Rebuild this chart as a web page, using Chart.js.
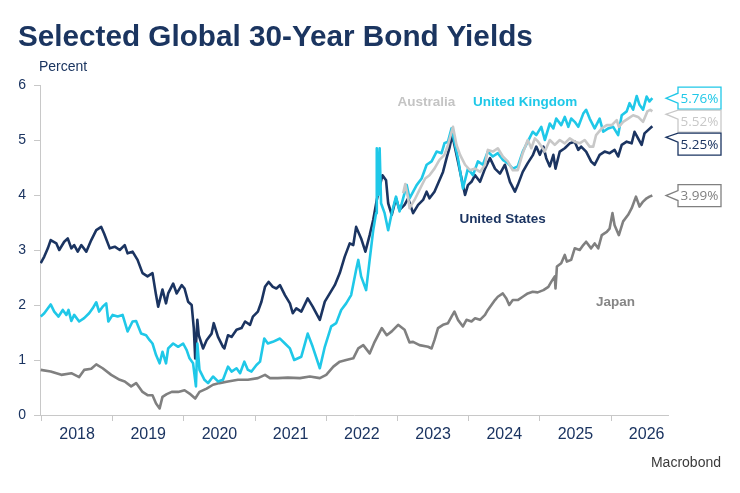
<!DOCTYPE html>
<html>
<head>
<meta charset="utf-8">
<script src="https://cdn.jsdelivr.net/npm/chart.js@4.4.1/dist/chart.umd.min.js"></script>
<style>
    body { margin: 0; background: #fff; }
    #wrap { position: relative; width: 740px; height: 493px; font-family: "Liberation Sans", Arial, sans-serif; overflow: hidden; }
    #box { position: absolute; left: 0; top: 0; width: 740px; height: 493px; }
    .title { position: absolute; left: 18px; top: 21px; font-size: 29.7px; line-height: 30px; font-weight: bold; color: #1b3560; white-space: nowrap; }
    .unit { position: absolute; left: 39px; top: 59px; font-size: 14px; line-height: 14px; color: #1b3560; }
    .source { position: absolute; right: 19px; top: 455px; font-size: 14px; line-height: 14px; color: #3a3a3a; }
</style>
</head>
<body>
<div id="wrap">
    <div id="box"><canvas id="chart"></canvas></div>
    <div class="title">Selected Global 30-Year Bond Yields</div>
    <div class="unit">Percent</div>
    <div class="source">Macrobond</div>
</div>
<script>
// x values are decimal years
const yearTicks = [2018, 2019, 2020, 2021, 2022, 2023, 2024, 2025, 2026];

const usDates = [2017.99, 2018.04, 2018.09, 2018.13, 2018.21, 2018.25, 2018.32, 2018.37, 2018.42, 2018.46, 2018.51, 2018.56, 2018.63, 2018.70, 2018.77, 2018.84, 2018.88, 2018.96,
    2019.03, 2019.10, 2019.17, 2019.21, 2019.28, 2019.35, 2019.42, 2019.49, 2019.56, 2019.61, 2019.64, 2019.70, 2019.75, 2019.78, 2019.85, 2019.90, 2019.97,
    2020.01, 2020.06, 2020.11, 2020.14, 2020.16, 2020.19, 2020.21, 2020.27, 2020.32, 2020.39, 2020.42, 2020.48, 2020.55, 2020.57, 2020.62, 2020.67, 2020.74, 2020.81, 2020.86, 2020.93, 2020.97,
    2021.04, 2021.09, 2021.14, 2021.19, 2021.25, 2021.30, 2021.35, 2021.42, 2021.49, 2021.53, 2021.58, 2021.65, 2021.74, 2021.81, 2021.91, 2021.98,
    2022.05, 2022.12, 2022.19, 2022.26, 2022.33, 2022.38, 2022.42, 2022.49, 2022.55, 2022.61, 2022.66, 2022.71, 2022.75, 2022.79, 2022.84, 2022.87, 2022.92, 2022.98,
    2023.03, 2023.10, 2023.15, 2023.22, 2023.29, 2023.36, 2023.41, 2023.45, 2023.52, 2023.59, 2023.64, 2023.69, 2023.73, 2023.77, 2023.80, 2023.85, 2023.90, 2023.95, 2023.99,
    2024.04, 2024.09, 2024.16, 2024.23, 2024.30, 2024.37, 2024.44, 2024.51, 2024.58, 2024.65, 2024.69, 2024.76, 2024.83, 2024.90, 2024.95,
    2025.00, 2025.05, 2025.09, 2025.14, 2025.19, 2025.22, 2025.28, 2025.35, 2025.42, 2025.49, 2025.54, 2025.58, 2025.65, 2025.72, 2025.77, 2025.84, 2025.91, 2025.98,
    2026.05, 2026.10, 2026.15, 2026.22, 2026.29, 2026.33, 2026.38, 2026.43, 2026.47, 2026.52, 2026.58];
const usYields = [2.76, 2.88, 3.03, 3.18, 3.12, 3.00, 3.15, 3.21, 3.03, 3.09, 2.97, 3.09, 2.97, 3.18, 3.36, 3.42, 3.30, 3.03,
    3.06, 3.00, 3.09, 2.94, 2.97, 2.82, 2.58, 2.52, 2.58, 2.18, 1.97, 2.28, 2.03, 2.21, 2.39, 2.21, 2.36,
    2.30, 2.06, 2.00, 1.58, 1.03, 1.73, 1.45, 1.21, 1.36, 1.48, 1.67, 1.42, 1.24, 1.21, 1.45, 1.42, 1.55, 1.58, 1.70, 1.64, 1.79,
    1.88, 2.06, 2.33, 2.42, 2.33, 2.30, 2.36, 2.18, 2.03, 1.85, 1.94, 1.88, 2.12, 1.97, 1.73, 2.06,
    2.21, 2.36, 2.58, 2.88, 3.12, 3.09, 3.42, 3.21, 2.97, 3.27, 3.55, 3.91, 4.15, 4.36, 4.27, 3.85, 3.64, 3.94,
    3.73, 3.82, 3.94, 3.67, 3.82, 3.91, 4.06, 3.94, 4.06, 4.27, 4.42, 4.67, 4.85, 5.09, 4.91, 4.61, 4.30, 4.00, 4.18,
    4.24, 4.36, 4.24, 4.48, 4.67, 4.48, 4.39, 4.55, 4.24, 4.06, 4.18, 4.42, 4.58, 4.72, 4.88,
    4.73, 4.88, 4.67, 4.52, 4.73, 4.48, 4.79, 4.85, 4.94, 4.97, 4.82, 4.88, 4.79, 4.61, 4.55, 4.73, 4.79, 4.76,
    4.82, 4.70, 4.91, 4.97, 4.94, 5.15, 5.03, 4.91, 5.12, 5.18, 5.25];

const ukDates = [2017.99, 2018.04, 2018.13, 2018.18, 2018.24, 2018.30, 2018.35, 2018.38, 2018.42, 2018.46, 2018.53, 2018.60, 2018.67, 2018.72, 2018.77, 2018.81, 2018.86, 2018.91, 2018.94,
    2019.00, 2019.07, 2019.14, 2019.21, 2019.28, 2019.33, 2019.40, 2019.47, 2019.52, 2019.56, 2019.61, 2019.66, 2019.70, 2019.75, 2019.78, 2019.85, 2019.92, 2019.99,
    2020.04, 2020.08, 2020.13, 2020.17, 2020.19, 2020.22, 2020.29, 2020.34, 2020.41, 2020.48, 2020.55, 2020.62, 2020.67, 2020.74, 2020.79, 2020.85, 2020.90, 2020.95,
    2021.02, 2021.07, 2021.13, 2021.18, 2021.25, 2021.35, 2021.42, 2021.49, 2021.55, 2021.65, 2021.74, 2021.81, 2021.91, 2021.98,
    2022.07, 2022.14, 2022.21, 2022.28, 2022.35, 2022.42, 2022.45, 2022.49, 2022.56, 2022.61, 2022.66, 2022.70, 2022.71, 2022.73, 2022.75, 2022.77, 2022.82, 2022.87, 2022.92, 2022.98,
    2023.03, 2023.13, 2023.17, 2023.27, 2023.34, 2023.41, 2023.48, 2023.55, 2023.62, 2023.66, 2023.71, 2023.76, 2023.80, 2023.85, 2023.92, 2023.99,
    2024.06, 2024.13, 2024.20, 2024.27, 2024.34, 2024.41, 2024.48, 2024.55, 2024.62, 2024.69, 2024.76, 2024.83, 2024.90, 2024.95,
    2025.02, 2025.07, 2025.14, 2025.19, 2025.23, 2025.30, 2025.35, 2025.40, 2025.44, 2025.49, 2025.54, 2025.61, 2025.65, 2025.70, 2025.77, 2025.84, 2025.89, 2025.96,
    2026.03, 2026.10, 2026.15, 2026.22, 2026.26, 2026.31, 2026.36, 2026.40, 2026.45, 2026.50, 2026.54, 2026.58];
const ukYields = [1.79, 1.85, 2.01, 1.88, 1.79, 1.91, 1.82, 1.91, 1.71, 1.82, 1.70, 1.76, 1.85, 1.94, 2.05, 1.88, 1.97, 2.03, 1.70,
    1.82, 1.79, 1.82, 1.52, 1.70, 1.71, 1.48, 1.45, 1.36, 1.30, 1.09, 0.94, 1.15, 0.94, 1.21, 1.30, 1.24, 1.30,
    1.18, 1.03, 0.94, 0.52, 1.30, 0.82, 0.64, 0.58, 0.70, 0.61, 0.64, 0.88, 0.79, 0.85, 0.76, 0.97, 0.82, 0.79,
    0.91, 0.97, 1.39, 1.30, 1.33, 1.39, 1.30, 1.21, 1.00, 1.06, 1.48, 1.24, 0.85, 1.24,
    1.61, 1.67, 1.91, 2.03, 2.18, 2.64, 2.82, 2.52, 2.27, 2.82, 3.36, 3.67, 4.85, 4.00, 4.85, 3.85, 3.67, 3.36, 3.67, 3.97,
    3.70, 4.18, 3.94, 4.18, 4.30, 4.55, 4.61, 4.79, 4.76, 4.94, 4.97, 5.21, 4.97, 4.67, 4.12, 4.48,
    4.36, 4.61, 4.55, 4.79, 4.70, 4.76, 4.64, 4.58, 4.48, 4.52, 4.79, 4.97, 5.15, 5.09,
    5.24, 5.00, 5.30, 5.21, 5.39, 5.27, 5.42, 5.24, 5.39, 5.33, 5.24, 5.48, 5.55, 5.39, 5.21, 5.39, 5.15, 5.21,
    5.24, 5.09, 5.45, 5.52, 5.67, 5.55, 5.80, 5.64, 5.55, 5.79, 5.70, 5.76];

const auDates = [2023.08, 2023.11, 2023.15, 2023.17, 2023.24, 2023.32, 2023.39, 2023.45, 2023.52, 2023.59, 2023.66, 2023.71, 2023.78, 2023.83, 2023.88, 2023.95,
    2024.02, 2024.09, 2024.16, 2024.23, 2024.27, 2024.34, 2024.41, 2024.48, 2024.55, 2024.62, 2024.69, 2024.76, 2024.83, 2024.88, 2024.93, 2024.97,
    2025.07, 2025.14, 2025.21, 2025.28, 2025.35, 2025.42, 2025.49, 2025.56, 2025.63, 2025.70, 2025.75, 2025.79, 2025.87, 2025.94,
    2026.01, 2026.08, 2026.11, 2026.17, 2026.24, 2026.31, 2026.38, 2026.45, 2026.51, 2026.55, 2026.58];
const auYields = [4.03, 4.20, 3.95, 3.76, 3.91, 4.12, 4.30, 4.36, 4.48, 4.64, 4.73, 4.91, 5.24, 4.91, 4.73, 4.55,
    4.45, 4.48, 4.42, 4.55, 4.82, 4.79, 4.85, 4.70, 4.61, 4.45, 4.45, 4.76, 5.00, 4.85, 5.03, 4.98,
    4.79, 5.00, 4.91, 5.00, 4.94, 5.03, 4.97, 4.94, 5.00, 4.88, 4.88, 5.09, 5.21, 5.27,
    5.27, 5.36, 5.24, 5.33, 5.39, 5.45, 5.42, 5.33, 5.52, 5.55, 5.52];

const jpDates = [2017.99, 2018.13, 2018.28, 2018.42, 2018.53, 2018.60, 2018.70, 2018.77, 2018.86, 2018.98,
    2019.10, 2019.17, 2019.26, 2019.33, 2019.42, 2019.49, 2019.56, 2019.61, 2019.66, 2019.70, 2019.76, 2019.83, 2019.92,
    2020.01, 2020.08, 2020.16, 2020.22, 2020.32, 2020.41, 2020.50, 2020.62, 2020.76, 2020.90,
    2021.04, 2021.14, 2021.21, 2021.32, 2021.46, 2021.63, 2021.77, 2021.91,
    2022.00, 2022.10, 2022.19, 2022.28, 2022.38, 2022.45, 2022.52, 2022.61, 2022.68, 2022.78, 2022.85, 2022.92,
    2023.01, 2023.10, 2023.17, 2023.22, 2023.31, 2023.43, 2023.48, 2023.52, 2023.57, 2023.64, 2023.71, 2023.76, 2023.80, 2023.85, 2023.92, 2023.97,
    2024.04, 2024.09, 2024.16, 2024.23, 2024.27, 2024.32, 2024.37, 2024.41, 2024.48, 2024.53, 2024.57, 2024.62, 2024.69, 2024.76, 2024.83, 2024.90, 2024.97,
    2025.05, 2025.12, 2025.16, 2025.21, 2025.22, 2025.24, 2025.30, 2025.35, 2025.38, 2025.44, 2025.49, 2025.56, 2025.61, 2025.65, 2025.72, 2025.77, 2025.82, 2025.87, 2025.94, 2025.98,
    2026.02, 2026.05, 2026.11, 2026.17, 2026.24, 2026.29, 2026.35, 2026.40, 2026.45, 2026.50, 2026.54, 2026.58];
const jpYields = [0.82, 0.79, 0.73, 0.76, 0.69, 0.82, 0.84, 0.92, 0.85, 0.73,
    0.64, 0.61, 0.52, 0.58, 0.42, 0.36, 0.36, 0.21, 0.12, 0.33, 0.38, 0.42, 0.42,
    0.45, 0.39, 0.30, 0.42, 0.48, 0.55, 0.58, 0.61, 0.64, 0.64,
    0.67, 0.73, 0.67, 0.67, 0.68, 0.67, 0.70, 0.67,
    0.73, 0.88, 0.97, 1.00, 1.03, 1.21, 1.27, 1.12, 1.33, 1.58, 1.45, 1.52,
    1.64, 1.55, 1.32, 1.33, 1.27, 1.24, 1.21, 1.36, 1.58, 1.64, 1.67, 1.79, 1.88, 1.73, 1.61, 1.73,
    1.70, 1.76, 1.73, 1.82, 1.91, 2.00, 2.09, 2.15, 2.21, 2.12, 2.00, 2.09, 2.09, 2.15, 2.21, 2.24, 2.23,
    2.27, 2.33, 2.42, 2.52, 2.30, 2.70, 2.76, 2.91, 2.79, 2.82, 3.03, 3.00, 3.09, 3.15, 3.03, 3.12, 3.03, 3.27, 3.33, 3.39,
    3.67, 3.45, 3.27, 3.52, 3.64, 3.76, 3.97, 3.79, 3.88, 3.94, 3.97, 3.99];

const navy = "#1b3461";
const axisGray = "#c8c8c8";
const fontFamily = '"Liberation Sans", Arial, sans-serif';

// in-chart series names, anchored at [year, percent]
const seriesNames = [
    { text: "Australia", at: [2023.00, 5.69], color: "#c4c4c4" },
    { text: "United Kingdom", at: [2024.06, 5.69], color: "#1fc8e8" },
    { text: "United States", at: [2023.87, 3.55], color: navy },
    { text: "Japan", at: [2025.79, 2.05], color: "#868686" },
];

function makeSeries(label, dates, values, color) {
    return {
        label: label,
        data: dates.map((d, i) => ({ x: d, y: values[i] })),
        borderColor: color,
        backgroundColor: color,
        borderWidth: 2.6,
        borderJoinStyle: "round",
        pointRadius: 0,
        tension: 0,
        fill: false,
    };
}

// value boxes at the right end of every line
const endLabels = {
    id: "endLabels",
    afterDraw(chart) {
        const { ctx, chartArea, scales } = chart;
        const yScale = scales.y;
        const xScale = scales.x;
        ctx.save();

        ctx.font = "bold 13.5px " + fontFamily;
        ctx.textAlign = "left";
        ctx.textBaseline = "middle";
        seriesNames.forEach((n) => {
            ctx.fillStyle = n.color;
            ctx.fillText(n.text, xScale.getPixelForValue(n.at[0]), yScale.getPixelForValue(n.at[1]));
        });

        const items = chart.data.datasets.map((ds) => {
            const last = ds.data[ds.data.length - 1];
            const py = yScale.getPixelForValue(last.y);
            return { dataY: py, y: py, value: last.y, color: ds.borderColor };
        });
        items.sort((a, b) => a.dataY - b.dataY);
        const h = 22, w = 43, gap = 23;
        for (let i = 1; i < items.length; i++) {
            if (items[i].y < items[i - 1].y + gap) items[i].y = items[i - 1].y + gap;
        }

        const left = chartArea.right + 10;
        const tipX = left - 12;
        items.forEach((it) => {
            const top = it.y - h / 2;
            const bottom = it.y + h / 2;
            const tipY = Math.min(Math.max(it.dataY, top + 4), bottom - 4);
            const b1 = Math.max(top, tipY - 5);
            const b2 = Math.min(bottom, tipY + 5);
            ctx.beginPath();
            ctx.moveTo(left, top);
            ctx.lineTo(left + w, top);
            ctx.lineTo(left + w, bottom);
            ctx.lineTo(left, bottom);
            ctx.lineTo(left, b2);
            ctx.lineTo(tipX, tipY);
            ctx.lineTo(left, b1);
            ctx.closePath();
            ctx.fillStyle = "#fff";
            ctx.fill();
            ctx.lineWidth = 1.3;
            ctx.strokeStyle = it.color;
            ctx.stroke();

            ctx.font = '13.5px "Open Sans", sans-serif';
            ctx.textAlign = "center";
            ctx.fillStyle = it.color;
            ctx.fillText(it.value.toFixed(2) + "%", left + w / 2, it.y + 0.5);
        });
        ctx.restore();
    },
};

new Chart(document.getElementById("chart"), {
    type: "line",
    data: {
        datasets: [
            makeSeries("Australia", auDates, auYields, "#c8c8c8"),
            makeSeries("United Kingdom", ukDates, ukYields, "#1fc8e8"),
            makeSeries("United States", usDates, usYields, navy),
            makeSeries("Japan", jpDates, jpYields, "#808080"),
        ],
    },
    options: {
        animation: false,
        responsive: true,
        maintainAspectRatio: false,
        layout: { padding: { left: 0, top: 85, right: 72, bottom: 38 } },
        plugins: {
            legend: { display: false },
            tooltip: { enabled: false },
        },
        scales: {
            x: {
                type: "linear",
                min: 2017.98,
                max: 2026.8,
                afterBuildTicks: (scale) => {
                    scale.ticks = yearTicks.map((v) => ({ value: v }));
                },
                afterFit: (scale) => {
                    scale.height = 40;
                },
                grid: { drawOnChartArea: false, drawTicks: true, tickLength: 6, color: axisGray },
                border: { color: axisGray },
                ticks: {
                    autoSkip: false,
                    maxRotation: 0,
                    labelOffset: 35.6,
                    padding: 4,
                    color: navy,
                    font: { size: 16, family: fontFamily },
                    callback: (v) => String(v),
                },
            },
            y: {
                min: 0,
                max: 6,
                afterFit: (scale) => {
                    scale.width = 40;
                },
                grid: { drawOnChartArea: false, drawTicks: true, tickLength: 6, color: axisGray },
                border: { color: axisGray },
                ticks: {
                    stepSize: 1,
                    padding: 8,
                    color: navy,
                    font: { size: 14, family: fontFamily },
                },
            },
        },
    },
    plugins: [endLabels],
});
</script>
</body>
</html>
